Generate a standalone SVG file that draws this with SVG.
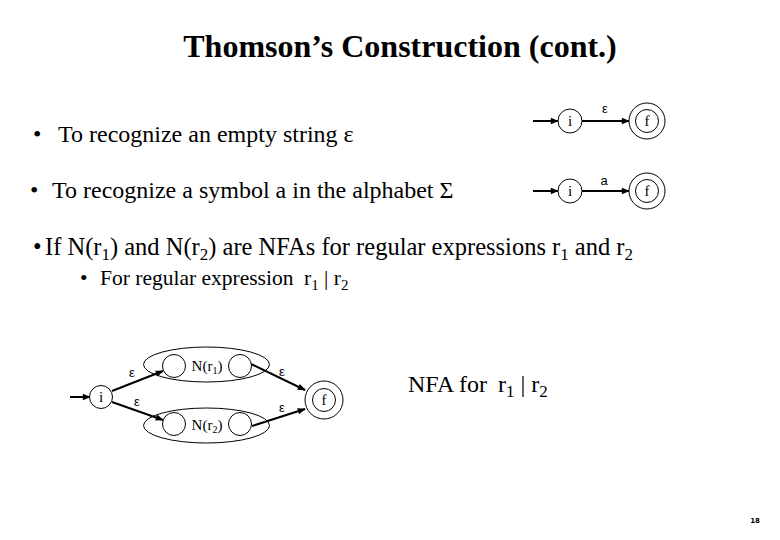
<svg xmlns="http://www.w3.org/2000/svg" width="780" height="540" viewBox="0 0 780 540">
<defs>
<marker id="ah" viewBox="0 0 10 10" refX="9" refY="5" markerWidth="4.5" markerHeight="4" markerUnits="strokeWidth" orient="auto">
<path d="M0,1 L10,5 L0,9 z" fill="#000"/>
</marker>
<style>
.t{font-family:"Liberation Serif","Times New Roman",serif;fill:#000}
.big{font-size:24px}
.title{font-size:32px;font-weight:bold}
.lab{font-family:"Liberation Serif","Times New Roman",serif;font-size:15px;fill:#000;text-anchor:middle}
.eps{font-family:"Liberation Sans",Arial,sans-serif;font-size:13px;fill:#000;text-anchor:middle}
.st{fill:#fff;stroke:#000;stroke-width:1}
.ell{fill:none;stroke:#000;stroke-width:1}
.e{stroke:#000;stroke-width:2;fill:none;marker-end:url(#ah)}
</style>
</defs>
<rect width="780" height="540" fill="#fff"/>
<text class="t title" x="400" y="57" text-anchor="middle">Thomson’s Construction (cont.)</text>
<text class="t big" y="142"><tspan x="33">•</tspan><tspan x="58">To recognize an empty string ε</tspan></text>
<text class="t big" y="198"><tspan x="30">•</tspan><tspan x="52">To recognize a symbol a in the alphabet Σ</tspan></text>
<text class="t" font-size="24.5" y="255"><tspan x="33">•</tspan><tspan x="45">If N(r</tspan><tspan font-size="17" dy="5">1</tspan><tspan dy="-5">) and N(r</tspan><tspan font-size="17" dy="5">2</tspan><tspan dy="-5">) are NFAs for regular expressions r</tspan><tspan font-size="17" dy="5">1</tspan><tspan dy="-5"> and r</tspan><tspan font-size="17" dy="5">2</tspan></text>
<text class="t" font-size="21.5" y="285"><tspan x="80">•</tspan><tspan x="100">For regular expression</tspan><tspan x="304">r</tspan><tspan font-size="15" dy="5">1</tspan><tspan dy="-5"> | r</tspan><tspan font-size="15" dy="5">2</tspan></text>
<text class="t big" y="392"><tspan x="408">NFA for</tspan><tspan x="498">r</tspan><tspan font-size="17" dy="5">1</tspan><tspan dy="-5"> | r</tspan><tspan font-size="17" dy="5">2</tspan></text>
<g id="connectors">
<line class="e" x1="533" y1="121" x2="558" y2="121"/>
<line class="e" x1="582" y1="121" x2="629" y2="121"/>
<line class="e" x1="533" y1="191" x2="558" y2="191"/>
<line class="e" x1="582" y1="191" x2="629" y2="191"/>
<line class="e" x1="70" y1="397" x2="90" y2="397"/>
<line class="e" x1="112" y1="391" x2="163" y2="371"/>
<line class="e" x1="112" y1="402" x2="163" y2="420"/>
<line class="e" x1="251" y1="364" x2="305" y2="390"/>
<line class="e" x1="252" y1="426" x2="305" y2="409"/>
<text class="eps" x="605" y="113">ε</text>
<text class="eps" x="604" y="185">a</text>
<text class="eps" x="132" y="377">ε</text>
<text class="eps" x="137" y="406">ε</text>
<text class="eps" x="282" y="376">ε</text>
<text class="eps" x="282" y="412">ε</text>
</g>
<g id="i1"><circle class="st" cx="570" cy="121" r="12"/><text class="lab" x="570" y="126">i</text></g>
<g id="f1"><circle class="st" cx="647" cy="121" r="18"/><circle class="st" cx="647" cy="121" r="11.5"/><text class="lab" x="647" y="126">f</text></g>
<g id="i2"><circle class="st" cx="570" cy="191" r="12"/><text class="lab" x="570" y="196">i</text></g>
<g id="f2"><circle class="st" cx="647" cy="191" r="18"/><circle class="st" cx="647" cy="191" r="11.5"/><text class="lab" x="647" y="196">f</text></g>
<g id="i3"><circle class="st" cx="101" cy="397" r="11.5"/><text class="lab" x="101" y="402">i</text></g>
<g id="Nr1"><ellipse class="ell" cx="206.5" cy="364.5" rx="63" ry="17.5"/><circle class="st" cx="174" cy="366" r="11.5"/><circle class="st" cx="240" cy="366" r="11.5"/><text class="lab" x="207" y="371" font-size="14">N(r<tspan font-size="10" dy="3">1</tspan><tspan dy="-3">)</tspan></text></g>
<g id="Nr2"><ellipse class="ell" cx="206.5" cy="425.5" rx="63" ry="17.5"/><circle class="st" cx="174" cy="424" r="11.5"/><circle class="st" cx="240" cy="424" r="11.5"/><text class="lab" x="207" y="430" font-size="14">N(r<tspan font-size="10" dy="3">2</tspan><tspan dy="-3">)</tspan></text></g>
<g id="f3"><circle class="st" cx="324" cy="400" r="19"/><circle class="st" cx="324" cy="400" r="11.5"/><text class="lab" x="324" y="405">f</text></g>
<text x="755" y="523" font-family="DejaVu Sans,sans-serif" font-size="7" font-weight="bold" text-anchor="middle">18</text>
</svg>
